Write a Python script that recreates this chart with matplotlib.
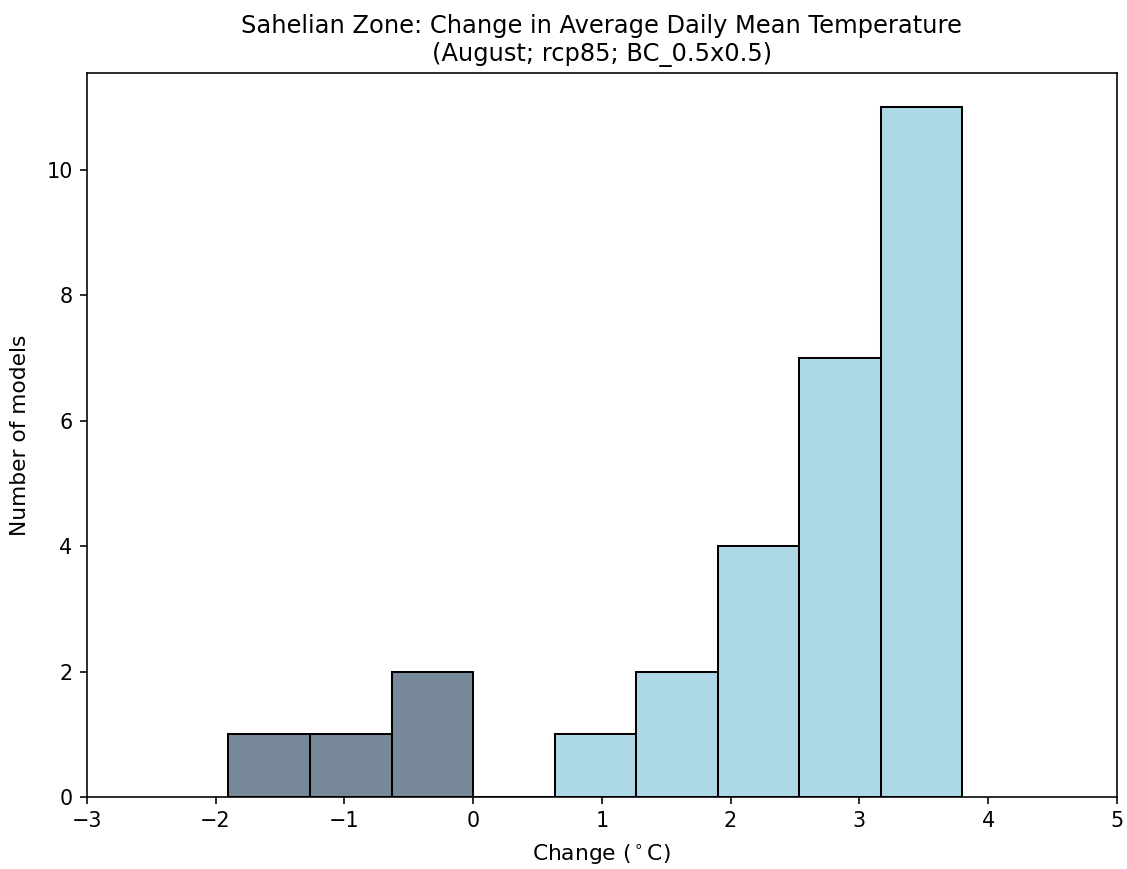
import numpy as np
import matplotlib
matplotlib.use("Agg")
import matplotlib.pyplot as plt

# bin edges (deg C) and number of models per bin
edges = np.linspace(-1.9, 3.8, 10)
counts = [1, 1, 2, 0, 1, 2, 4, 7, 11]

DPI = 145
fig = plt.figure(figsize=(1127 / DPI, 869 / DPI), dpi=DPI)
ax = fig.add_axes([0.077, 0.083, 0.914, 0.833])

widths = np.diff(edges)
colors = ["lightslategray" if e < 0 else "lightblue" for e in edges[:-1]]
ax.bar(edges[:-1], counts, width=widths, align="edge",
       color=colors, edgecolor="black", linewidth=1)

ax.set_xlim(-3, 5)
ax.set_xticks(range(-3, 6))
ax.tick_params(labelsize=10.3)
ax.set_xlabel(r"Change ($^\circ$C)", fontsize=10.8, labelpad=6)
ax.set_ylabel("Number of models", fontsize=10.8, labelpad=8)
ax.set_title("Sahelian Zone: Change in Average Daily Mean Temperature\n"
             "(August; rcp85; BC_0.5x0.5)", fontsize=12)

fig.savefig("out.png", dpi=DPI)
